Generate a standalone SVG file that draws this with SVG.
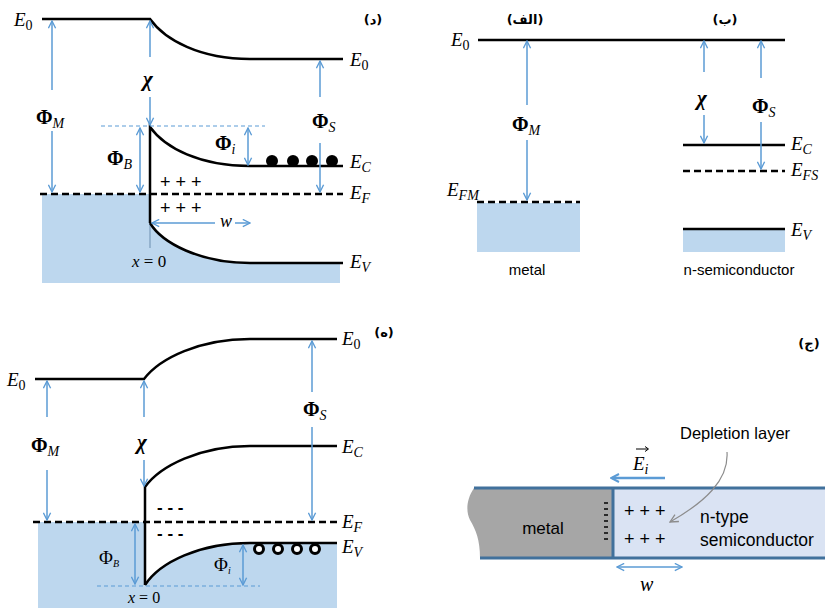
<svg xmlns="http://www.w3.org/2000/svg" width="825" height="608" viewBox="0 0 825 608">
  <style>
    .band { fill: none; stroke: #000; stroke-width: 2.5; }
    .fermi { fill: none; stroke: #000; stroke-width: 2.5; stroke-dasharray: 7 4; }
    .fill { fill: #bdd7ee; stroke: none; }
    .arr { stroke: #5b9bd5; stroke-width: 1.5; fill: none; marker-end: url(#ah); }
    .arr2 { stroke: #5b9bd5; stroke-width: 1.5; fill: none; marker-start: url(#ah); marker-end: url(#ah); }
    .ref { stroke: #5b9bd5; stroke-width: 1; stroke-dasharray: 4 3; fill: none; }
    .lvl { font-family: "Liberation Serif", serif; font-style: italic; font-size: 19px; fill: #000; }
    .sub { font-size: 14px; }
    .phi { font-family: "Liberation Serif", serif; font-weight: bold; font-size: 20px; fill: #000; }
    .phir { font-family: "Liberation Serif", serif; font-size: 19px; fill: #000; }
    .chi { font-family: "Liberation Serif", serif; font-weight: bold; font-style: italic; font-size: 21px; fill: #000; }
    .ital { font-family: "Liberation Serif", serif; font-style: italic; fill: #000; }
    .sans { font-family: "Liberation Sans", sans-serif; fill: #000; }
    .ar { font-family: "DejaVu Sans", sans-serif; font-size: 13px; font-weight: bold; fill: #000; }
  </style>
  <defs>
    <marker id="ah" viewBox="0 0 10 10" refX="9" refY="5" markerWidth="9" markerHeight="9" markerUnits="userSpaceOnUse" orient="auto-start-reverse">
      <path d="M1,1 L9,5 L1,9" fill="none" stroke="#5b9bd5" stroke-width="1.5"/>
    </marker>
    <marker id="ahg" viewBox="0 0 10 10" refX="9" refY="5" markerWidth="10" markerHeight="10" markerUnits="userSpaceOnUse" orient="auto">
      <path d="M1,1 L9,5 L1,9" fill="none" stroke="#8c8c8c" stroke-width="1.3"/>
    </marker>
    <marker id="ahb" viewBox="0 0 10 10" refX="8" refY="5" markerWidth="10" markerHeight="10" markerUnits="userSpaceOnUse" orient="auto-start-reverse">
      <path d="M1,1 L9,5 L1,9" fill="none" stroke="#5b9bd5" stroke-width="2"/>
    </marker>
  </defs>

  <!-- Panel (د): metal / n-semiconductor contact, phi_M > phi_S -->
  <g id="panel-d">
    <path class="fill" d="M42,194 H150 V223 C162,243 200,263 250,263 H340 V283 H42 Z"/>
    <line x1="150" y1="223" x2="150" y2="248" stroke="#6c8fb0" stroke-width="1"/>
    <path class="band" d="M42,19 H150 C165,40 200,59 250,59 H343"/>
    <path class="band" d="M150,223 V127 C165,148 200,166 250,166 H343"/>
    <path class="band" d="M150,223 C162,243 200,263 250,263 H343"/>
    <line class="fermi" x1="40" y1="194" x2="343" y2="194"/>
    <line class="ref" x1="101" y1="126" x2="265" y2="126"/>
    <g fill="#000">
      <circle cx="272" cy="161" r="6"/>
      <circle cx="293" cy="161" r="6"/>
      <circle cx="312" cy="161" r="6"/>
      <circle cx="332" cy="161" r="6"/>
    </g>
    <line class="arr" x1="52" y1="90" x2="52" y2="21"/>
    <line class="arr" x1="52" y1="131" x2="52" y2="192"/>
    <line class="arr" x1="150" y1="57" x2="150" y2="21"/>
    <line class="arr" x1="150" y1="97" x2="150" y2="125"/>
    <line class="arr2" x1="140" y1="128" x2="140" y2="192"/>
    <line class="arr2" x1="248" y1="128" x2="248" y2="165"/>
    <line class="arr" x1="320" y1="97" x2="320" y2="61"/>
    <line class="arr" x1="320" y1="143" x2="320" y2="192"/>
    <line class="arr" x1="215" y1="223" x2="152" y2="223"/>
    <line class="arr" x1="235" y1="223" x2="250" y2="223"/>
    <text class="lvl" x="14" y="26">E<tspan class="sub" dy="4" font-style="normal">0</tspan></text>
    <text class="lvl" x="350" y="66">E<tspan class="sub" dy="4" font-style="normal">0</tspan></text>
    <text class="lvl" x="350" y="168">E<tspan class="sub" dy="4">C</tspan></text>
    <text class="lvl" x="350" y="199">E<tspan class="sub" dy="4">F</tspan></text>
    <text class="lvl" x="350" y="268">E<tspan class="sub" dy="4">V</tspan></text>
    <text class="phi" x="36" y="124">Φ<tspan class="sub" dy="4" font-weight="normal" font-style="italic">M</tspan></text>
    <text class="chi" x="143" y="86">χ</text>
    <text class="phi" x="107" y="165">Φ<tspan class="sub" dy="4" font-weight="normal" font-style="italic">B</tspan></text>
    <text class="phi" x="215" y="150">Φ<tspan class="sub" dy="4" font-weight="normal" font-style="italic">i</tspan></text>
    <text class="phi" x="312" y="128">Φ<tspan class="sub" dy="4" font-weight="normal" font-style="italic">S</tspan></text>
    <text class="sans" x="160" y="188" font-size="18">+ + +</text>
    <text class="sans" x="160" y="214" font-size="18">+ + +</text>
    <text class="ital" x="220" y="227" font-size="18">w</text>
    <text class="ital" x="132" y="267" font-size="17">x <tspan font-style="normal">= 0</tspan></text>
    <text class="ar" x="373" y="24" text-anchor="middle">(د)</text>
  </g>

  <!-- Panels (الف) and (ب): isolated metal and n-semiconductor -->
  <g id="panel-a-b">
    <rect class="fill" x="477" y="203" width="103" height="49"/>
    <rect class="fill" x="683" y="230" width="102" height="22"/>
    <line class="band" x1="478" y1="40" x2="785" y2="40"/>
    <line class="fermi" x1="477" y1="202" x2="580" y2="202"/>
    <line class="band" x1="683" y1="145" x2="785" y2="145"/>
    <line class="fermi" x1="683" y1="171" x2="785" y2="171"/>
    <line class="band" x1="683" y1="229" x2="785" y2="229"/>
    <line class="arr" x1="527" y1="105" x2="527" y2="41"/>
    <line class="arr" x1="527" y1="140" x2="527" y2="200"/>
    <line class="arr" x1="704" y1="72" x2="704" y2="41"/>
    <line class="arr" x1="704" y1="115" x2="704" y2="143"/>
    <line class="arr" x1="761" y1="78" x2="761" y2="41"/>
    <line class="arr" x1="761" y1="122" x2="761" y2="169"/>
    <text class="lvl" x="451" y="46">E<tspan class="sub" dy="4" font-style="normal">0</tspan></text>
    <text class="lvl" x="447" y="196">E<tspan class="sub" dy="4">FM</tspan></text>
    <text class="lvl" x="791" y="150">E<tspan class="sub" dy="4">C</tspan></text>
    <text class="lvl" x="791" y="176">E<tspan class="sub" dy="4">FS</tspan></text>
    <text class="lvl" x="791" y="236">E<tspan class="sub" dy="4">V</tspan></text>
    <text class="phi" x="512" y="131">Φ<tspan class="sub" dy="4" font-weight="normal" font-style="italic">M</tspan></text>
    <text class="chi" x="697" y="105">χ</text>
    <text class="phi" x="752" y="113">Φ<tspan class="sub" dy="4" font-weight="normal" font-style="italic">S</tspan></text>
    <text class="sans" x="527" y="275" font-size="15" text-anchor="middle">metal</text>
    <text class="sans" x="739" y="275" font-size="15" text-anchor="middle">n-semiconductor</text>
    <text class="ar" x="525" y="24" text-anchor="middle">(الف)</text>
    <text class="ar" x="725" y="24" text-anchor="middle">(ب)</text>
  </g>

  <!-- Panel (ه): metal / n-semiconductor contact, phi_M < phi_S -->
  <g id="panel-h">
    <path class="fill" d="M38,522 H145 V585 C160,562 200,543 250,543 H337 V608 H38 Z"/>
    <path class="band" d="M35,379 H144 C160,358 200,339 250,339 H337"/>
    <path class="band" d="M145,585 V487 C160,466 200,446 250,446 H337"/>
    <path class="band" d="M145,585 C160,562 200,543 250,543 H337"/>
    <line class="fermi" x1="33" y1="522" x2="337" y2="522"/>
    <line class="ref" x1="97" y1="586" x2="260" y2="586"/>
    <g fill="#fff" stroke="#000" stroke-width="3">
      <circle cx="259" cy="549" r="4.5"/>
      <circle cx="278" cy="549" r="4.5"/>
      <circle cx="297" cy="549" r="4.5"/>
      <circle cx="315" cy="549" r="4.5"/>
    </g>
    <line class="arr" x1="47" y1="417" x2="47" y2="381"/>
    <line class="arr" x1="47" y1="470" x2="47" y2="520"/>
    <line class="arr" x1="144" y1="417" x2="144" y2="381"/>
    <line class="arr" x1="144" y1="460" x2="144" y2="486"/>
    <line class="arr" x1="312" y1="392" x2="312" y2="341"/>
    <line class="arr" x1="312" y1="427" x2="312" y2="520"/>
    <line class="arr2" x1="135" y1="524" x2="135" y2="584"/>
    <line class="arr2" x1="243" y1="545" x2="243" y2="585"/>
    <text class="lvl" x="342" y="345">E<tspan class="sub" dy="4" font-style="normal">0</tspan></text>
    <text class="lvl" x="7" y="386">E<tspan class="sub" dy="4" font-style="normal">0</tspan></text>
    <text class="lvl" x="342" y="453">E<tspan class="sub" dy="4">C</tspan></text>
    <text class="lvl" x="342" y="528">E<tspan class="sub" dy="4">F</tspan></text>
    <text class="lvl" x="342" y="553">E<tspan class="sub" dy="4">V</tspan></text>
    <text class="phi" x="31" y="452">Φ<tspan class="sub" dy="4" font-weight="normal" font-style="italic">M</tspan></text>
    <text class="chi" x="137" y="449">χ</text>
    <text class="phi" x="303" y="416">Φ<tspan class="sub" dy="4" font-weight="normal" font-style="italic">S</tspan></text>
    <text class="phir" x="99" y="564">Φ<tspan font-size="10" dy="3" font-style="italic">B</tspan></text>
    <text class="phir" x="214" y="571">Φ<tspan font-size="10" dy="3" font-style="italic">i</tspan></text>
    <text class="sans" x="157" y="513" font-size="17" font-weight="bold">- - -</text>
    <text class="sans" x="157" y="539" font-size="17" font-weight="bold">- - -</text>
    <text class="ital" x="128" y="603" font-size="16">x <tspan font-style="normal">= 0</tspan></text>
    <text class="ar" x="384" y="337" text-anchor="middle">(ه)</text>
  </g>

  <!-- Panel (ج): real-space view of the depletion layer -->
  <g id="panel-j">
    <path d="M474,488 H613 V558 H480 C480,540 476,530 470,520 C466,512 466,500 474,488 Z" fill="#a6a6a6"/>
    <rect x="613" y="488" width="212" height="70" fill="#dae3f3"/>
    <path d="M474,488 H825 M480,558 H825" fill="none" stroke="#41719c" stroke-width="3"/>
    <line x1="613" y1="487" x2="613" y2="559" stroke="#41719c" stroke-width="3"/>
    <g stroke="#000" stroke-width="1.5">
      <line x1="604" y1="503" x2="608" y2="503"/>
      <line x1="604" y1="509" x2="608" y2="509"/>
      <line x1="604" y1="515" x2="608" y2="515"/>
      <line x1="604" y1="521" x2="608" y2="521"/>
      <line x1="604" y1="527" x2="608" y2="527"/>
      <line x1="604" y1="533" x2="608" y2="533"/>
      <line x1="604" y1="539" x2="608" y2="539"/>
    </g>
    <text class="sans" x="543" y="534" font-size="17" text-anchor="middle">metal</text>
    <text class="sans" x="624" y="517" font-size="18">+ + +</text>
    <text class="sans" x="624" y="545" font-size="18">+ + +</text>
    <text class="sans" x="700" y="523" font-size="17.5">n-type</text>
    <text class="sans" x="700" y="546" font-size="17.5">semiconductor</text>
    <text class="sans" x="680" y="439" font-size="16.5">Depletion layer</text>
    <text class="lvl" x="633" y="470">E<tspan class="sub" dy="4">i</tspan></text>
    <path d="M636,449 H648 M645,446.5 L648.5,449 L645,451.5" fill="none" stroke="#000" stroke-width="1"/>
    <text class="ital" x="640" y="591" font-size="20">w</text>
    <text class="ar" x="809" y="348" text-anchor="middle">(ج)</text>
  </g>

  <!-- connectors of panel (ج) -->
  <g id="connectors">
    <path d="M727,452 C729,480 705,502 670,522" fill="none" stroke="#8c8c8c" stroke-width="1.2" marker-end="url(#ahg)"/>
    <line x1="665" y1="478" x2="612" y2="478" stroke="#5b9bd5" stroke-width="2.5" marker-end="url(#ahb)"/>
    <line x1="617" y1="567" x2="682" y2="567" stroke="#5b9bd5" stroke-width="1.5" marker-start="url(#ah)" marker-end="url(#ah)"/>
  </g>
</svg>
